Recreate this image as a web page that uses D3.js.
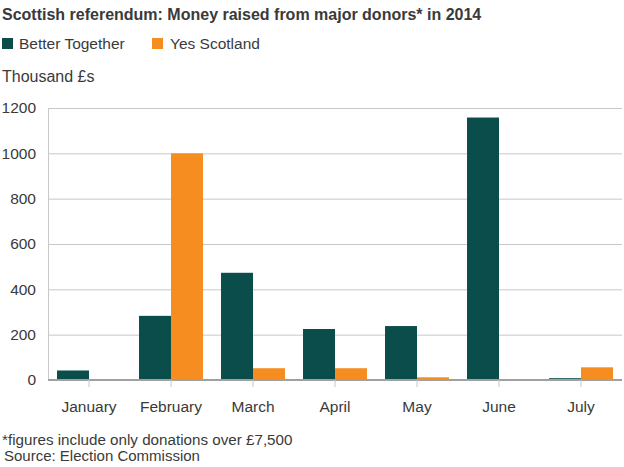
<!DOCTYPE html>
<html>
<head>
<meta charset="utf-8">
<script src="https://cdn.jsdelivr.net/npm/d3@7"></script>
<style>
  html, body { margin: 0; padding: 0; background: #fff; }
  text { font-family: "Liberation Sans", Arial, sans-serif; }
</style>
</head>
<body>
<svg id="chart" width="624" height="467"></svg>
<script>
const categories = ["January", "February", "March", "April", "May", "June", "July"];
const seriesNames = ["Better Together", "Yes Scotland"];
const betterTogether = [42, 283, 473, 225, 238, 1158, 8];
const yesScotland = [0, 1000, 52, 52, 12, 0, 56];
const yTicks = [0, 200, 400, 600, 800, 1000, 1200];
const colors = ["#0b4d4a", "#f68d21"];

const svg = d3.select("#chart");
const margin = { left: 48, right: 2, top: 108, bottom: 87 };
const W = 624, H = 467;
const textColor = "#3a3a3a";

const x = d3.scaleBand().domain(categories)
  .range([margin.left, W - margin.right]).paddingInner(0.22).paddingOuter(0.11);
const xs = d3.scaleBand().domain(seriesNames).range([0, x.bandwidth()]);
const y = d3.scaleLinear().domain([0, 1200]).range([H - margin.bottom, margin.top]);

// Title
svg.append("text").attr("x", 2).attr("y", 20)
  .attr("font-size", 16).attr("font-weight", "bold").attr("fill", textColor)
  .text("Scottish referendum: Money raised from major donors* in 2014");

// Legend
const leg = [{ name: seriesNames[0], x: 2, tx: 19 }, { name: seriesNames[1], x: 152, tx: 170 }];
leg.forEach((d, i) => {
  svg.append("rect").attr("x", d.x).attr("y", 38).attr("width", 11).attr("height", 11).attr("fill", colors[i]);
  svg.append("text").attr("x", d.tx).attr("y", 49).attr("font-size", 15.5).attr("fill", textColor).text(d.name);
});

svg.append("text").attr("x", 2).attr("y", 82).attr("font-size", 16).attr("fill", textColor).text("Thousand £s");

// Gridlines
svg.append("g").selectAll("line").data(yTicks.filter(t => t > 0)).join("line")
  .attr("x1", margin.left).attr("x2", W - margin.right)
  .attr("y1", d => y(d) + 0.5).attr("y2", d => y(d) + 0.5)
  .attr("stroke", "#c8c8c8").attr("stroke-width", 1);

// Left axis line
svg.append("line").attr("x1", margin.left + 0.5).attr("x2", margin.left + 0.5)
  .attr("y1", y(1200)).attr("y2", y(0)).attr("stroke", "#c8c8c8");

// Y axis labels
const yAxis = d3.axisLeft(y).tickValues(yTicks).tickFormat(d3.format("d")).tickSize(0).tickPadding(12);
const yg = svg.append("g").attr("transform", `translate(${margin.left},0)`).call(yAxis);
yg.select(".domain").remove();
yg.selectAll("text").attr("font-size", 15.5).attr("fill", textColor)
  .style("font-family", '"Liberation Sans", Arial, sans-serif');

// Bars
const data = categories.map((c, i) => ({ cat: c, vals: [betterTogether[i], yesScotland[i]] }));
const groups = svg.append("g").selectAll("g").data(data).join("g")
  .attr("transform", d => `translate(${x(d.cat)},0)`);
groups.selectAll("rect").data(d => d.vals.map((v, j) => ({ v, j }))).join("rect")
  .attr("x", d => xs(seriesNames[d.j]))
  .attr("width", xs.bandwidth())
  .attr("y", d => y(d.v))
  .attr("height", d => y(0) - y(d.v))
  .attr("fill", d => colors[d.j]);

// X axis
const xAxis = d3.axisBottom(x).tickSize(7).tickPadding(14);
const xg = svg.append("g").attr("transform", `translate(0,${y(0)})`).call(xAxis);
xg.select(".domain").attr("stroke", "#a0a0a0").attr("stroke-width", 2)
  .attr("d", `M${margin.left},0H${W - margin.right}`);
xg.selectAll(".tick line").attr("stroke", "#c8c8c8");
xg.selectAll("text").attr("font-size", 15.5).attr("fill", textColor)
  .style("font-family", '"Liberation Sans", Arial, sans-serif');

// Footnotes
svg.append("text").attr("x", 2).attr("y", 445).attr("font-size", 15.2).attr("fill", textColor)
  .text("*figures include only donations over £7,500");
svg.append("text").attr("x", 4).attr("y", 461).attr("font-size", 15).attr("fill", textColor)
  .text("Source: Election Commission");
</script>
</body>
</html>
